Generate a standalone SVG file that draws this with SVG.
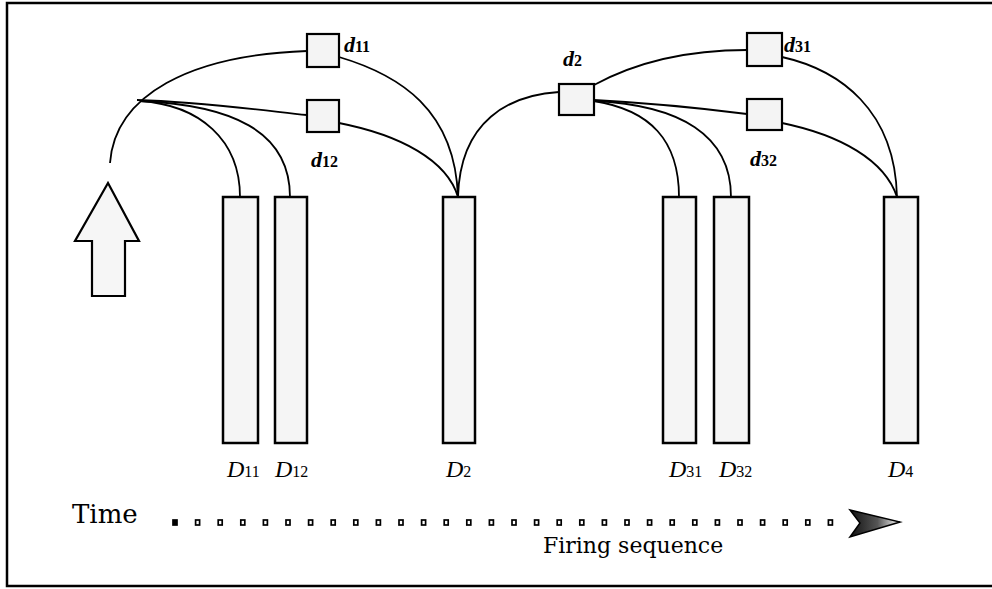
<svg xmlns="http://www.w3.org/2000/svg" width="992" height="589" viewBox="0 0 992 589">
  <defs>
    <linearGradient id="headFill" x1="0" y1="0" x2="1" y2="0">
      <stop offset="0" stop-color="#111"/>
      <stop offset="0.55" stop-color="#555"/>
      <stop offset="1" stop-color="#fff"/>
    </linearGradient>
    <style>
      .box { fill: #f4f4f4; stroke: #000; stroke-width: 2.2; }
      .rod { fill: #f5f5f5; stroke: #000; stroke-width: 2.5; }
      .conn { fill: none; stroke: #000; stroke-width: 1.8; }
      .lab { font-family: "Liberation Serif", "Times New Roman", serif; font-style: italic; fill: #000; }
      .dl { font-size: 22px; font-weight: bold; }
      .Dl { font-size: 24px; }
      .sub { font-size: 16px; font-style: normal; }
      .plain { font-family: "DejaVu Serif", "Liberation Serif", serif; fill: #000; }
      .dot { fill: #fff; stroke: #000; stroke-width: 1.7; }
    </style>
  </defs>
  <rect x="0" y="0" width="992" height="589" fill="#fff"/>
  <path d="M992,3 H7 V586 H992" fill="none" stroke="#000" stroke-width="2.5"/>

  <g id="connectors">
    <path class="conn" d="M110,163 C115,95 190,55 307,51"/>
    <path class="conn" d="M137,100 C200,102 260,110 307,115"/>
    <path class="conn" d="M140,101 C200,105 240,140 240,197"/>
    <path class="conn" d="M140,101 C230,105 290,130 290,197"/>
    <path class="conn" d="M339,57 C400,75 455,110 458,197"/>
    <path class="conn" d="M339,123 C400,135 447,160 458,197"/>
    <path class="conn" d="M458,197 C460,120 510,95 559,92"/>
    <path class="conn" d="M594,85 C640,60 690,50 747,50"/>
    <path class="conn" d="M594,100 C650,103 700,108 747,114"/>
    <path class="conn" d="M594,101 C650,110 679,140 679,197"/>
    <path class="conn" d="M594,101 C680,105 731,135 731,197"/>
    <path class="conn" d="M782,57 C840,70 895,110 897,197"/>
    <path class="conn" d="M782,123 C840,135 885,160 897,197"/>
  </g>

  <g id="arrow-up">
    <polygon points="108,183 139,241 125,241 125,296 92,296 92,241 75,241" fill="#f6f6f6" stroke="#000" stroke-width="2.2"/>
  </g>

  <g id="d11"><rect class="box" x="307" y="34" width="32" height="33"/><text class="lab dl" x="344" y="52">d<tspan class="sub">11</tspan></text></g>
  <g id="d12"><rect class="box" x="307" y="100" width="32" height="32"/><text class="lab dl" x="311" y="167">d<tspan class="sub">12</tspan></text></g>
  <g id="d2"><rect class="box" x="559" y="84" width="35" height="31"/><text class="lab dl" x="563" y="66">d<tspan class="sub">2</tspan></text></g>
  <g id="d31"><rect class="box" x="747" y="33" width="35" height="33"/><text class="lab dl" x="784" y="52">d<tspan class="sub">31</tspan></text></g>
  <g id="d32"><rect class="box" x="747" y="99" width="35" height="31"/><text class="lab dl" x="750" y="166">d<tspan class="sub">32</tspan></text></g>

  <g id="D11"><rect class="rod" x="223" y="197" width="35" height="246"/><text class="lab Dl" x="227" y="477">D<tspan class="sub">11</tspan></text></g>
  <g id="D12"><rect class="rod" x="275" y="197" width="32" height="246"/><text class="lab Dl" x="275" y="477">D<tspan class="sub">12</tspan></text></g>
  <g id="D2"><rect class="rod" x="443" y="197" width="32" height="246"/><text class="lab Dl" x="446" y="477">D<tspan class="sub">2</tspan></text></g>
  <g id="D31"><rect class="rod" x="663" y="197" width="33" height="246"/><text class="lab Dl" x="669" y="477">D<tspan class="sub">31</tspan></text></g>
  <g id="D32"><rect class="rod" x="714" y="197" width="35" height="246"/><text class="lab Dl" x="719" y="477">D<tspan class="sub">32</tspan></text></g>
  <g id="D4"><rect class="rod" x="884" y="197" width="34" height="246"/><text class="lab Dl" x="888" y="477">D<tspan class="sub">4</tspan></text></g>

  <g id="timeline">
    <text class="plain" x="72" y="523" font-size="26">Time</text>
    <g id="dots">
      <rect class="dot" x="173" y="520" width="4" height="5" style="fill:#000"/>
      <rect class="dot" x="195.6" y="520" width="4" height="5"/>
      <rect class="dot" x="218.2" y="520" width="4" height="5"/>
      <rect class="dot" x="240.8" y="520" width="4" height="5"/>
      <rect class="dot" x="263.4" y="520" width="4" height="5"/>
      <rect class="dot" x="286" y="520" width="4" height="5"/>
      <rect class="dot" x="308.6" y="520" width="4" height="5"/>
      <rect class="dot" x="331.2" y="520" width="4" height="5"/>
      <rect class="dot" x="353.8" y="520" width="4" height="5"/>
      <rect class="dot" x="376.4" y="520" width="4" height="5"/>
      <rect class="dot" x="399" y="520" width="4" height="5"/>
      <rect class="dot" x="421.6" y="520" width="4" height="5"/>
      <rect class="dot" x="444.2" y="520" width="4" height="5"/>
      <rect class="dot" x="466.8" y="520" width="4" height="5"/>
      <rect class="dot" x="489.4" y="520" width="4" height="5"/>
      <rect class="dot" x="512" y="520" width="4" height="5"/>
      <rect class="dot" x="534.6" y="520" width="4" height="5"/>
      <rect class="dot" x="557.2" y="520" width="4" height="5"/>
      <rect class="dot" x="579.8" y="520" width="4" height="5"/>
      <rect class="dot" x="602.4" y="520" width="4" height="5"/>
      <rect class="dot" x="625" y="520" width="4" height="5"/>
      <rect class="dot" x="647.6" y="520" width="4" height="5"/>
      <rect class="dot" x="670.2" y="520" width="4" height="5"/>
      <rect class="dot" x="692.8" y="520" width="4" height="5"/>
      <rect class="dot" x="715.4" y="520" width="4" height="5"/>
      <rect class="dot" x="738" y="520" width="4" height="5"/>
      <rect class="dot" x="760.6" y="520" width="4" height="5"/>
      <rect class="dot" x="783.2" y="520" width="4" height="5"/>
      <rect class="dot" x="805.8" y="520" width="4" height="5"/>
      <rect class="dot" x="828.4" y="520" width="4" height="5"/>
    </g>
    <polygon points="850,510 900,522 850,537 860,523" fill="url(#headFill)" stroke="#000" stroke-width="1.5"/>
    <text class="plain" x="543" y="553" font-size="22">Firing sequence</text>
  </g>
</svg>
